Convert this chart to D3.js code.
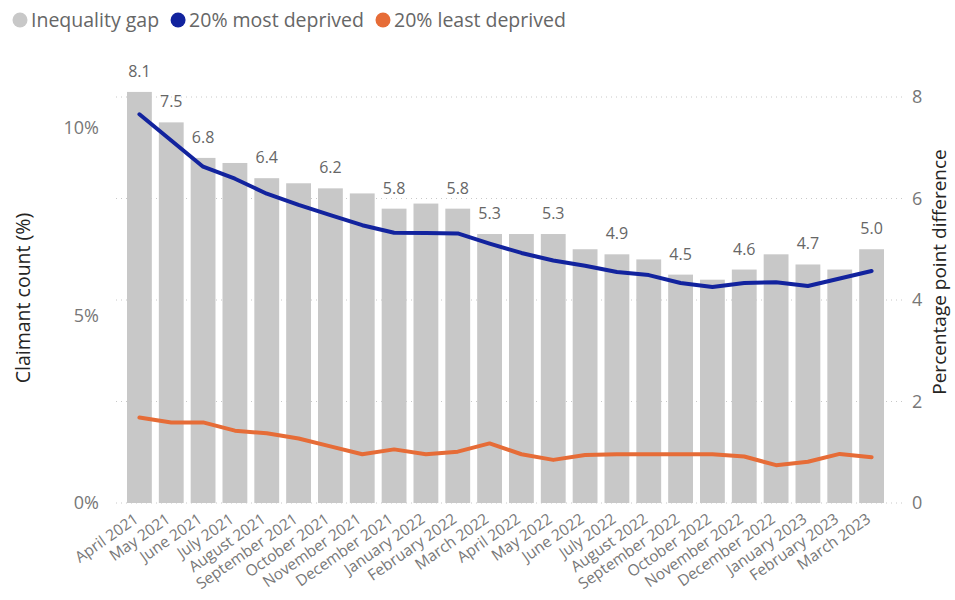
<!DOCTYPE html>
<html>
<head>
<meta charset="utf-8">
<script src="https://cdn.jsdelivr.net/npm/d3@7"></script>
<style>
  html, body { margin: 0; padding: 0; background: #fff; }
  svg { display: block; font-family: "Open Sans", "Noto Sans", sans-serif; }
</style>
</head>
<body>
<svg id="chart" width="955" height="600"></svg>
<script>
const months = ["April 2021","May 2021","June 2021","July 2021","August 2021","September 2021","October 2021","November 2021","December 2021","January 2022","February 2022","March 2022","April 2022","May 2022","June 2022","July 2022","August 2022","September 2022","October 2022","November 2022","December 2022","January 2023","February 2023","March 2023"];
const gap = [8.1,7.5,6.8,6.7,6.4,6.3,6.2,6.1,5.8,5.9,5.8,5.3,5.3,5.3,5.0,4.9,4.8,4.5,4.4,4.6,4.9,4.7,4.6,5.0];
const mostDeprived = [10.37,9.67,8.97,8.65,8.25,7.95,7.68,7.41,7.21,7.20,7.19,6.92,6.67,6.47,6.33,6.16,6.08,5.87,5.76,5.87,5.89,5.79,5.99,6.19];
const leastDeprived = [2.28,2.15,2.15,1.93,1.86,1.72,1.51,1.30,1.43,1.30,1.37,1.59,1.30,1.15,1.28,1.30,1.30,1.30,1.30,1.24,1.01,1.10,1.31,1.22];
const labelShown = ["April 2021","May 2021","June 2021","August 2021","October 2021","December 2021","February 2022","March 2022","May 2022","July 2022","September 2022","November 2022","January 2023","March 2023"];
const leftTicks = [0, 5, 10];
const rightTicks = [0, 2, 4, 6, 8];
const legendItems = ["Inequality gap", "20% most deprived", "20% least deprived"];
const colors = ["#c8c8c8", "#12239e", "#e66c37"];

const svg = d3.select("#chart");
const plotTop = 97, plotBottom = 503, plotLeft = 116, plotRight = 905;

const x = d3.scaleBand().domain(months).range([127, 884]).paddingInner(0.22).paddingOuter(0);
const yL = d3.scaleLinear().domain([0, 10.83]).range([plotBottom, plotTop]);
const yR = d3.scaleLinear().domain([0, 8]).range([plotBottom, plotTop]);

// gridlines (right axis)
svg.append("g").selectAll("line").data(rightTicks).join("line")
  .attr("x1", plotLeft).attr("x2", plotRight)
  .attr("y1", d => yR(d)).attr("y2", d => yR(d))
  .attr("stroke", "#c8c8c8").attr("stroke-width", 1).attr("stroke-dasharray", "1,4");

// bars
svg.append("g").selectAll("rect").data(months).join("rect")
  .attr("x", d => x(d)).attr("width", x.bandwidth())
  .attr("y", (d, i) => yR(gap[i])).attr("height", (d, i) => yR(0) - yR(gap[i]))
  .attr("fill", colors[0]);

// bar labels
svg.append("g").selectAll("text").data(months.map((m, i) => ({m, v: gap[i]})).filter(d => labelShown.includes(d.m))).join("text")
  .attr("x", d => x(d.m) + x.bandwidth() / 2)
  .attr("y", d => yR(d.v) - 15)
  .attr("text-anchor", "middle")
  .attr("font-size", 16).attr("fill", "#666666")
  .text(d => d.v.toFixed(1));

// lines
const line = d3.line().x((d, i) => x(months[i]) + x.bandwidth() / 2).y(d => yL(d));
svg.append("path").datum(mostDeprived).attr("d", line)
  .attr("fill", "none").attr("stroke", colors[1]).attr("stroke-width", 4).attr("stroke-linejoin", "round").attr("stroke-linecap", "round");
svg.append("path").datum(leastDeprived).attr("d", line)
  .attr("fill", "none").attr("stroke", colors[2]).attr("stroke-width", 4).attr("stroke-linejoin", "round").attr("stroke-linecap", "round");

// left axis
const axL = svg.append("g").attr("transform", `translate(${plotLeft},0)`)
  .call(d3.axisLeft(yL).tickValues(leftTicks).tickFormat(d => d + "%").tickSize(0).tickPadding(17));
axL.select(".domain").remove();
axL.selectAll("text").attr("font-size", 18).attr("fill", "#777777").attr("font-family", "Open Sans");

// right axis
const axR = svg.append("g").attr("transform", `translate(${plotRight},0)`)
  .call(d3.axisRight(yR).tickValues(rightTicks).tickFormat(d3.format("d")).tickSize(0).tickPadding(7));
axR.select(".domain").remove();
axR.selectAll("text").attr("font-size", 18).attr("fill", "#777777").attr("font-family", "Open Sans");

// x axis
const axX = svg.append("g").attr("transform", `translate(0,${plotBottom})`)
  .call(d3.axisBottom(x).tickSize(0).tickPadding(0));
axX.select(".domain").remove();
axX.selectAll("text")
  .attr("font-size", 15.5).attr("fill", "#777777").attr("font-family", "Open Sans")
  .attr("text-anchor", "end")
  .attr("x", 0).attr("y", 0)
  .attr("dy", "0.35em")
  .attr("transform", "translate(-3,14) rotate(-35)");

// axis titles
svg.append("text").attr("transform", "translate(30,298) rotate(-90)")
  .attr("text-anchor", "middle").attr("font-size", 19.5).attr("fill", "#252423").text("Claimant count (%)");
svg.append("text").attr("transform", "translate(946,272) rotate(-90)")
  .attr("text-anchor", "middle").attr("font-size", 19).attr("fill", "#252423").text("Percentage point difference");

// legend
const lg = svg.append("g").attr("transform", "translate(0,20)");
let lx = 20;
legendItems.forEach((name, i) => {
  lg.append("circle").attr("cx", lx).attr("cy", 0).attr("r", 7.5).attr("fill", colors[i]);
  const t = lg.append("text").attr("x", lx + 11).attr("y", 0).attr("dy", "0.35em")
    .attr("font-size", 19.5).attr("fill", "#666666").text(name);
  lx += 11 + t.node().getComputedTextLength() + 19;
});
</script>
</body>
</html>
